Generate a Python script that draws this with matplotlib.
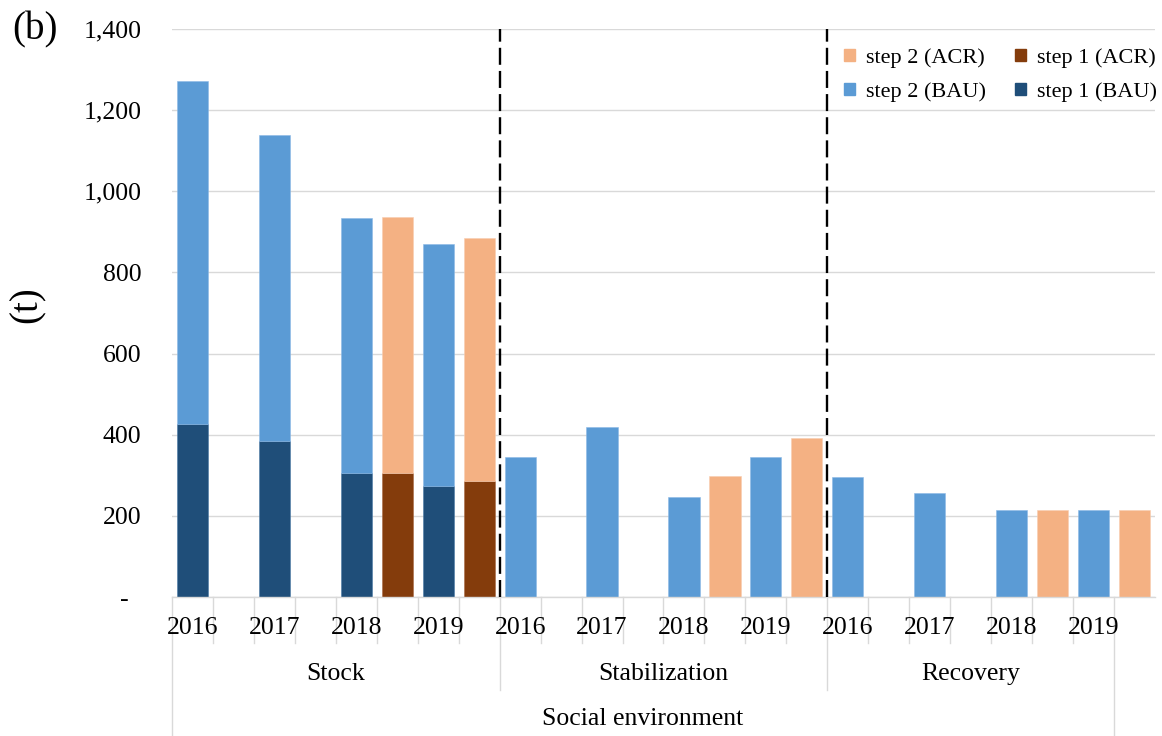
import matplotlib
matplotlib.use("Agg")
import matplotlib.pyplot as plt
import matplotlib.transforms as mtransforms
from matplotlib.patches import Patch
import numpy as np

plt.rcParams['font.family'] = ['Liberation Serif', 'DejaVu Serif']

# ---------------- data ----------------
groups = ["Stock", "Stabilization", "Recovery"]
outer_label = "Social environment"
years = ["2016", "2017", "2018", "2019"]

# per group, per year (None = no bar)
step1_bau = {"Stock": [427, 385, 305, 274],
             "Stabilization": [0, 0, 0, 0],
             "Recovery": [0, 0, 0, 0]}
step2_bau = {"Stock": [845, 754, 629, 597],
             "Stabilization": [346, 420, 247, 344],
             "Recovery": [295, 256, 214, 215]}
step1_acr = {"Stock": [None, None, 306, 287],
             "Stabilization": [None, None, 0, 0],
             "Recovery": [None, None, 0, 0]}
step2_acr = {"Stock": [None, None, 630, 599],
             "Stabilization": [None, None, 298, 392],
             "Recovery": [None, None, 215, 215]}

yticks = [0, 200, 400, 600, 800, 1000, 1200, 1400]
ytick_labels = ["-  ", "200", "400", "600", "800", "1,000", "1,200", "1,400"]

c_s1_bau = "#1F4E79"
c_s2_bau = "#5B9BD5"
c_s1_acr = "#843C0C"
c_s2_acr = "#F4B183"

# ---------------- figure ----------------
fig = plt.figure(figsize=(11.62, 7.36), dpi=100)
ax = fig.add_axes([172/1162, 1-597/736, (1155-172)/1162, (597-29)/736])

n_slots = 8 * len(groups)
bw = 0.76
for gi, g in enumerate(groups):
    for yi in range(len(years)):
        xb = gi * 8 + yi * 2
        xa = xb + 1
        s1 = step1_bau[g][yi]
        s2 = step2_bau[g][yi]
        ax.bar(xb, s1, bw, color=c_s1_bau, edgecolor="#4a7aa6", linewidth=0.4, zorder=2)
        ax.bar(xb, s2, bw, bottom=s1, color=c_s2_bau, edgecolor="#8cb9e6", linewidth=0.4, zorder=2)
        if step2_acr[g][yi] is not None:
            a1 = step1_acr[g][yi]
            a2 = step2_acr[g][yi]
            if a1:
                ax.bar(xa, a1, bw, color=c_s1_acr, edgecolor="#a86a45", linewidth=0.4, zorder=2)
            ax.bar(xa, a2, bw, bottom=a1, color=c_s2_acr, edgecolor="#f8cdb0", linewidth=0.4, zorder=2)

ax.set_xlim(-0.5, n_slots - 0.5)
ax.set_ylim(0, 1400)
ax.set_yticks(yticks)
ax.set_yticklabels(ytick_labels, fontsize=18.5)
ax.tick_params(axis="y", length=0, pad=22)
ax.set_xticks([])
ax.grid(axis="y", color="#D9D9D9", linewidth=1.0, zorder=0)
ax.set_axisbelow(True)
for s in ["top", "right", "left"]:
    ax.spines[s].set_visible(False)
ax.spines["bottom"].set_color("#D9D9D9")
ax.spines["bottom"].set_linewidth(1.0)

# dashed separators between groups
for gi in range(1, len(groups)):
    ax.plot([gi * 8 - 0.5] * 2, [0, 1400], color="black", linewidth=1.7,
            linestyle=(0, (7.2, 2.6)), zorder=3, clip_on=False)

# multi-level category axis
trans = mtransforms.blended_transform_factory(ax.transData, ax.transAxes)
ah = 597 - 29
def fy(py):
    return -(py - 597) / ah

last_lab = 8 * len(groups) - 1  # labelled range ends at boundary 23
for b in range(0, n_slots):
    xb = b - 0.5
    if b in (0, last_lab):
        yb = fy(736)
    elif b % 8 == 0:
        yb = fy(690)
    else:
        yb = fy(643)
    ax.plot([xb, xb], [0, yb], color="#D9D9D9", linewidth=1.0,
            transform=trans, clip_on=False, zorder=1)

for gi, g in enumerate(groups):
    for yi, yr in enumerate(years):
        ax.text(gi * 8 + yi * 2, fy(628), yr, transform=trans, ha="center",
                va="center", fontsize=18.5)
    start = gi * 8 - 0.5
    end = min(gi * 8 + 7.5, last_lab - 0.5)
    ax.text((start + end) / 2, fy(674), g, transform=trans, ha="center",
            va="center", fontsize=18.5)
ax.text((-0.5 + last_lab - 0.5) / 2, fy(719), outer_label, transform=trans,
        ha="center", va="center", fontsize=18.5)

# axis title and panel label
fig.text(27/1162, 1 - 305/736, "(t)", rotation=90, ha="center", va="center", fontsize=28)
fig.text(12/1162, 1 - 30/736, "(b)", ha="left", va="center", fontsize=28)

# legend
handles = [Patch(color=c_s2_acr, label="step 2 (ACR)"),
           Patch(color=c_s2_bau, label="step 2 (BAU)"),
           Patch(color=c_s1_acr, label="step 1 (ACR)"),
           Patch(color=c_s1_bau, label="step 1 (BAU)")]
leg = ax.legend(handles=handles, ncol=2, loc="upper right",
                bbox_to_anchor=(1.016, 0.99), frameon=False, fontsize=16,
                handlelength=0.5, handleheight=0.5, handletextpad=0.5,
                columnspacing=1.3, labelspacing=0.65, borderaxespad=0.2)

fig.savefig("out.png", dpi=100)
